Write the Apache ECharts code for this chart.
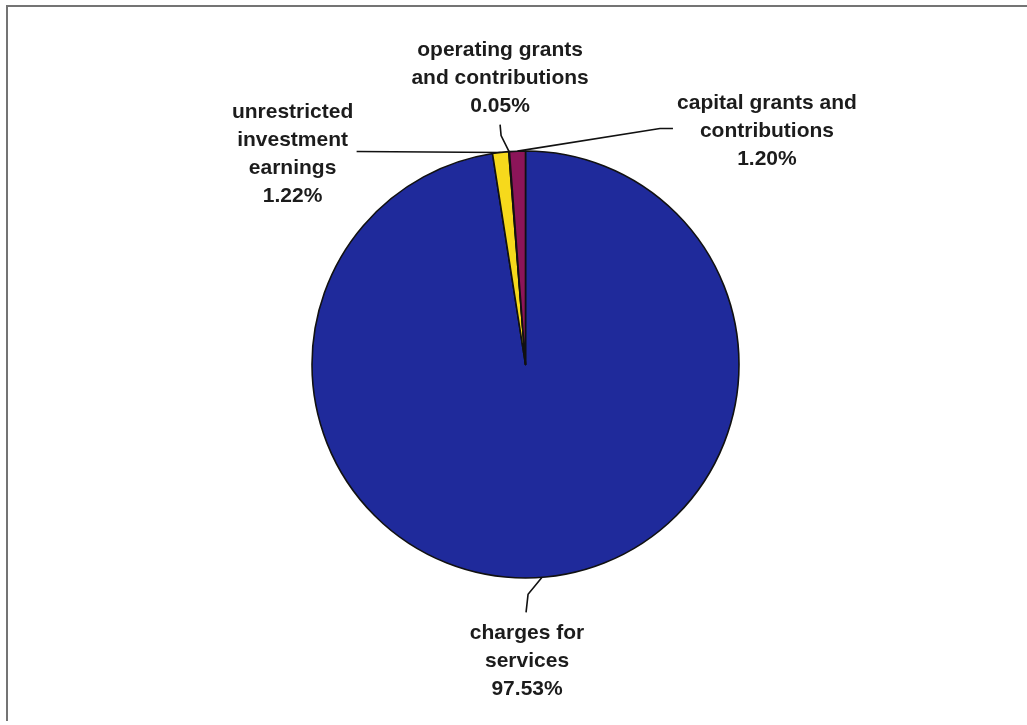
<!DOCTYPE html>
<html>
<head>
<meta charset="utf-8">
<script src="https://cdn.jsdelivr.net/npm/echarts@6/dist/echarts.min.js"></script>
<style>
  html, body { margin: 0; padding: 0; background: #ffffff; }
  #frame {
    position: absolute; left: 6px; top: 5px; width: 1040px; height: 716px;
    border-top: 2px solid #747474; border-left: 2px solid #747474;
    box-sizing: border-box;
  }
  #chart { position: absolute; left: 0; top: 0; width: 1027px; height: 725px; }
</style>
</head>
<body>
<div id="frame"></div>
<div id="chart"></div>
<script>
// Revenue sources, share of total (%)
const categories = [
  'charges for\nservices',
  'unrestricted\ninvestment\nearnings',
  'operating grants\nand contributions',
  'capital grants and\ncontributions'
];
const shares = [97.53, 1.22, 0.05, 1.20];
const sliceColors = ['#1f2a9b', '#f6d91c', '#f0e8e8', '#8c1559'];

// pie geometry
const CX = 525.5, CY = 364.5, R = 213.5, START = 90;

// label placement relative to the slice's outer-edge midpoint:
// [labelDx, labelDy, bend1Dx, bend1Dy, endDx, endDy]
const labelOffsets = [
  [-15, 84, -14, 17, -16, 35],
  [-208, 1.5, -72, -0.5, -144, -1],
  [-9, -73, -8, -16, -9, -27],
  [249.5, -20, 142.5, -22.7, 155.5, -22.7]
];

const total = shares.reduce((a, b) => a + b, 0);
function edgePoint(i) {
  let before = 0;
  for (let k = 0; k < i; k++) before += shares[k];
  const mid = (START - (before + shares[i] / 2) / total * 360) * Math.PI / 180;
  return [CX + R * Math.cos(mid), CY - R * Math.sin(mid)];
}

const chart = echarts.init(document.getElementById('chart'), null, { renderer: 'canvas' });
chart.setOption({
  backgroundColor: 'transparent',
  animation: false,
  series: [{
    type: 'pie',
    center: [CX, CY],
    radius: R,
    startAngle: START,
    clockwise: true,
    minAngle: 0,
    avoidLabelOverlap: false,
    data: categories.map((name, i) => ({
      name: name,
      value: shares[i],
      itemStyle: { color: sliceColors[i] }
    })),
    itemStyle: { borderColor: '#111111', borderWidth: 1.6 },
    emphasis: { disabled: true },
    label: {
      show: true,
      position: 'outside',
      formatter: p => p.name + '\n' + shares[p.dataIndex].toFixed(2) + '%',
      fontFamily: 'Liberation Sans, Arial, sans-serif',
      fontWeight: 'bold',
      fontSize: 21,
      lineHeight: 28,
      color: '#1c1c1c',
      align: 'center'
    },
    labelLine: {
      show: true,
      length: 10,
      length2: 10,
      smooth: false,
      lineStyle: { color: '#111111', width: 1.6 }
    },
    labelLayout: function (params) {
      const i = params.dataIndex;
      const o = labelOffsets[i];
      const e = edgePoint(i);
      return {
        x: e[0] + o[0],
        y: e[1] + o[1],
        align: 'center',
        verticalAlign: 'middle',
        labelLinePoints: [
          [e[0], e[1]],
          [e[0] + o[2], e[1] + o[3]],
          [e[0] + o[4], e[1] + o[5]]
        ]
      };
    }
  }]
});
</script>
</body>
</html>
